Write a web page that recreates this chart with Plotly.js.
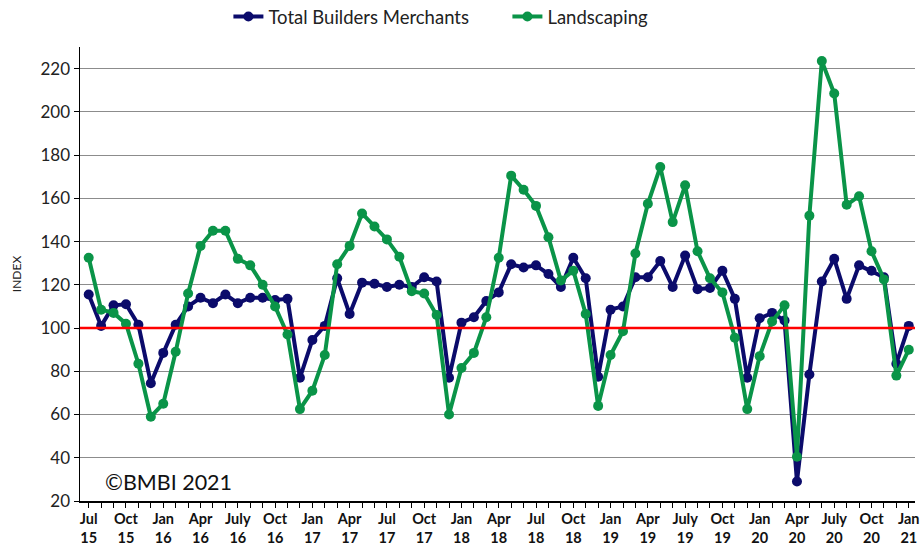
<!DOCTYPE html>
<html>
<head>
<meta charset="utf-8">
<script src="https://cdn.plot.ly/plotly-3.0.1.min.js"></script>
<style>html,body{margin:0;padding:0;background:#fff;}#chart{width:921px;height:547px;}</style>
</head>
<body>
<div id="chart"></div>
<script>
// Monthly index, Jul 2015 .. Jan 2021 (67 months)
var months = [];
var monthNames = ["Jan","Feb","Mar","Apr","May","Jun","Jul","Aug","Sep","Oct","Nov","Dec"];
(function(){
  var y = 2015, m = 6;
  for (var k = 0; k < 67; k++) {
    months.push(monthNames[m] + " " + y);
    m++; if (m > 11) { m = 0; y++; }
  }
})();

var totalBuildersMerchants = [
  115.5, 101, 110.5, 111, 101.5, 74.5, 88.5, 101.5, 110, 114, 111.5, 115.5,
  111.5, 114, 114, 113, 113.5, 77, 94.5, 101, 123, 106.5, 121, 120.5,
  119, 120, 119, 123.5, 121.5, 77, 102.5, 105, 112.5, 116.5, 129.5, 128,
  129, 125, 119, 132.5, 123, 77.5, 108.5, 110, 123.5, 123.5, 131, 119,
  133.5, 118, 118.5, 126.5, 113.5, 77, 104.5, 107, 103.5, 29, 78.5, 121.5,
  132, 113.5, 129, 126.5, 123.5, 83.5, 101
];

var landscaping = [
  132.5, 108.5, 107, 102, 83.5, 59, 65, 89, 116, 138, 145, 145,
  132, 129, 120, 110, 97, 62.5, 71, 87.5, 129.5, 138, 153, 147,
  141, 133, 117, 116, 106, 60, 81.5, 88.5, 105, 132.5, 170.5, 164,
  156.5, 142, 122, 126.5, 106.5, 64, 87.5, 98.5, 134.5, 157.5, 174.5, 149,
  166, 135.5, 123, 116.5, 95.5, 62.5, 87, 103, 110.5, 40.5, 152, 223.5,
  208.5, 157, 161, 135.5, 122.5, 78, 90
];

var tickMonths = ["Jul 2015","Oct 2015","Jan 2016","Apr 2016","Jul 2016","Oct 2016",
  "Jan 2017","Apr 2017","Jul 2017","Oct 2017","Jan 2018","Apr 2018","Jul 2018","Oct 2018",
  "Jan 2019","Apr 2019","Jul 2019","Oct 2019","Jan 2020","Apr 2020","Jul 2020","Oct 2020","Jan 2021"];
var tickLabels = ["Jul<br>15","Oct<br>15","Jan<br>16","Apr<br>16","July<br>16","Oct<br>16",
  "Jan<br>17","Apr<br>17","Jul<br>17","Oct<br>17","Jan<br>18","Apr<br>18","Jul<br>18","Oct<br>18",
  "Jan<br>19","Apr<br>19","July<br>19","Oct<br>19","Jan<br>20","Apr<br>20","July<br>20","Oct<br>20","Jan<br>21"];

var baseline = 100;

var navy = "#0b0b6b";
var green = "#0a9448";
var font = "Lato, 'Open Sans', sans-serif";

var traces = [
  {
    x: months, y: totalBuildersMerchants, name: "Total Builders Merchants",
    type: "scatter", mode: "lines+markers",
    line: {color: navy, width: 4},
    marker: {color: navy, size: 10}
  },
  {
    x: months, y: landscaping, name: "Landscaping",
    type: "scatter", mode: "lines+markers",
    line: {color: green, width: 4},
    marker: {color: green, size: 10}
  }
];

var layout = {
  width: 921, height: 547,
  margin: {l: 80, r: 6, t: 47, b: 46, autoexpand: false},
  paper_bgcolor: "#fff", plot_bgcolor: "#fff",
  font: {family: font, color: "#222"},
  showlegend: true,
  legend: {
    orientation: "h", xref: "container", yref: "container",
    x: 0.248, xanchor: "left", y: 0.969, yanchor: "middle",
    font: {size: 18.5, family: font, color: "#222"},
    itemwidth: 30, entrywidth: 234, tracegroupgap: 0, bgcolor: "rgba(0,0,0,0)"
  },
  xaxis: {
    type: "category",
    range: [-0.7, 66.5],
    tickmode: "array", tickvals: tickMonths, ticktext: tickLabels,
    ticks: "", tickangle: 0, ticklabelstandoff: 4,
    tickfont: {size: 14.5, family: font, color: "#111", weight: "bold"},
    showline: true, linecolor: "#000", linewidth: 1.5,
    showgrid: false, zeroline: false,
    minor: {ticks: "outside", ticklen: 5, tickcolor: "#000", tickmode: "linear", tick0: -0.5, dtick: 1, showgrid: false}
  },
  yaxis: {
    range: [20, 230],
    tickmode: "linear", tick0: 20, dtick: 20,
    ticks: "outside", ticklen: 5, tickcolor: "#000",
    tickfont: {size: 17, family: font, color: "#222"},
    showline: true, linecolor: "#000", linewidth: 1.5,
    showgrid: true, gridcolor: "#8c8c8c", gridwidth: 1,
    zeroline: false,
    title: {text: "INDEX", font: {size: 12, family: font, color: "#222"}, standoff: 16}
  },
  shapes: [
    {type: "line", xref: "paper", yref: "y", x0: 0, x1: 1, y0: baseline, y1: baseline,
     line: {color: "#ff0000", width: 2.5}}
  ],
  annotations: [
    {text: "©BMBI 2021", xref: "paper", yref: "paper", x: 0.027, y: 0.041,
     xanchor: "left", yanchor: "middle", showarrow: false,
     font: {size: 21.5, family: font, color: "#111"}}
  ]
};

Plotly.newPlot("chart", traces, layout, {displayModeBar: false, staticPlot: true});
</script>
</body>
</html>
